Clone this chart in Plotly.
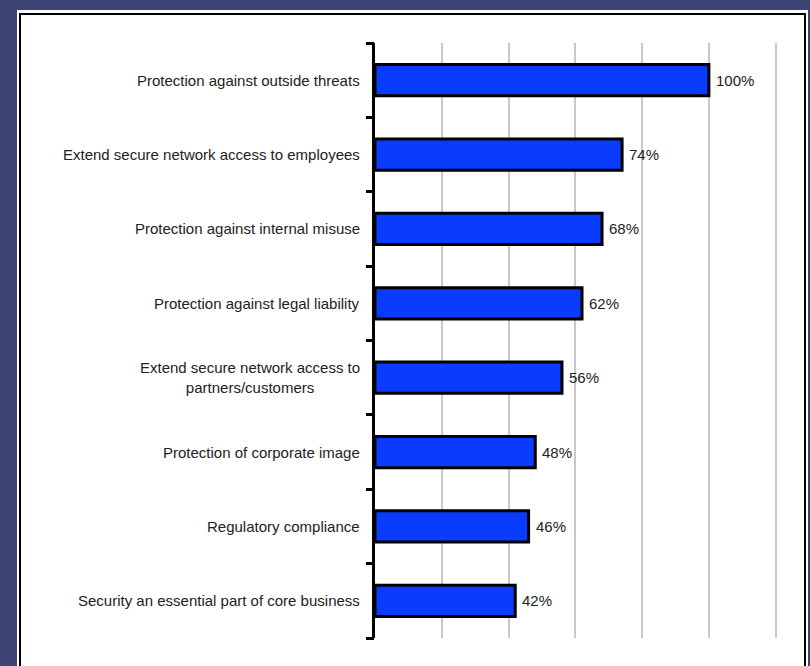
import plotly.graph_objects as go

categories = [
    "Protection against outside threats",
    "Extend secure network access to employees",
    "Protection against internal misuse",
    "Protection against legal liability",
    "Extend secure network access to<br>partners/customers",
    "Protection of corporate image",
    "Regulatory compliance",
    "Security an essential part of core business",
]
values = [100, 74, 68, 62, 56, 48, 46, 42]
value_labels = [f"{v}%" for v in values]

FONT = "Liberation Sans, Arial, sans-serif"

fig = go.Figure()
fig.add_trace(go.Bar(
    x=values, y=categories, orientation="h",
    width=0.42,
    marker=dict(color="#0a3cff", line=dict(color="#000000", width=3)),
    hoverinfo="x+y",
))
# empty helper trace so the boundary-tick axis is rendered
fig.add_trace(go.Scatter(x=[None], y=[None], yaxis="y2", mode="markers",
                         hoverinfo="skip", showlegend=False))

annotations = []
for c in categories:
    annotations.append(dict(
        x=0, xref="paper", y=c, yref="y", text=c, showarrow=False,
        xanchor="right", yanchor="middle", align="center", xshift=-13,
        font=dict(family=FONT, size=15, color="#222222"),
    ))
for c, v, t in zip(categories, values, value_labels):
    annotations.append(dict(
        x=v, xref="x", y=c, yref="y", text=t, showarrow=False,
        xanchor="left", yanchor="middle", xshift=5,
        font=dict(family=FONT, size=15, color="#222222"),
    ))

W, H = 810, 666
L, R, T, B = 375, 33, 43, 28
PW, PH = W - L - R, H - T - B

def px(x):
    return (x - L) / PW

def py(y):
    return (H - B - y) / PH

shapes = [
    dict(type="rect", xref="paper", yref="paper", x0=px(17), x1=px(808),
         y0=py(H + 5), y1=py(10), fillcolor="white", line=dict(width=0), layer="below"),
    dict(type="rect", xref="paper", yref="paper", x0=px(20), x1=px(805),
         y0=py(H + 5), y1=py(14), fillcolor="rgba(0,0,0,0)",
         line=dict(color="black", width=2), layer="below"),
]

n = len(categories)
boundaries = [i - 0.5 for i in range(n + 1)]

fig.update_layout(
    width=W, height=H,
    margin=dict(l=L, r=R, t=T, b=B),
    paper_bgcolor="#3d4577", plot_bgcolor="white",
    showlegend=False,
    annotations=annotations, shapes=shapes,
    xaxis=dict(range=[0, 120.4], dtick=20, showgrid=True, gridcolor="#c8c8c8", gridwidth=2,
               showticklabels=False, zeroline=False, showline=False, ticks=""),
    yaxis=dict(range=[n - 0.5, -0.5], showticklabels=False, ticks="",
               showline=True, linewidth=3, linecolor="black", showgrid=False),
    yaxis2=dict(overlaying="y", side="left", anchor="x", range=[n - 0.5, -0.5],
                tickmode="array", tickvals=boundaries, showticklabels=False,
                ticks="outside", ticklen=8, tickwidth=3, tickcolor="black",
                showline=False, showgrid=False, zeroline=False),
    font=dict(family=FONT),
)

fig.write_html("out.html", config={"displayModeBar": False},
               post_script="document.body.style.margin='0';document.body.style.overflow='hidden';")
